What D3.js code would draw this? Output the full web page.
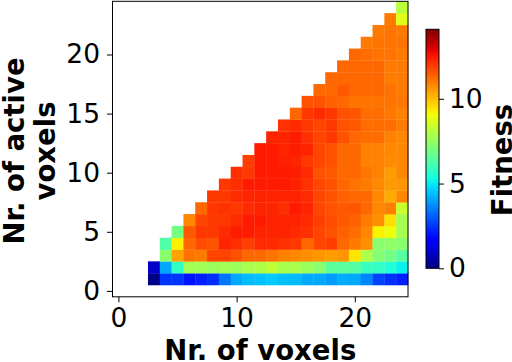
<!DOCTYPE html>
<html>
<head>
<meta charset="UTF-8">
<script src="https://cdnjs.cloudflare.com/ajax/libs/d3/7.8.5/d3.min.js"></script>
<style>
body { margin:0; background:#fff; }
text { font-family:"DejaVu Sans", sans-serif; fill:#000; }
.tick text { font-size:26.5px; }
.tick line { stroke:#000; stroke-width:1; }
.label { font-size:27.5px; font-weight:bold; }
</style>
</head>
<body>
<div id="chart"></div>
<script>
var width = 512, height = 362;

// rows = nr. of active voxels, each row starts at firstVoxel and runs to 24 voxels
var activeCounts = [1,2,3,4,5,6,7,8,9,10,11,12,13,14,15,16,17,18,19,20,21,22,23,24];
var firstVoxel   = [3,3,4,4,5,6,7,8,9,10,11,12,13,14,15,16,17,18,19,20,21,22,23,24];
var fitness = [
  [0.1,2.5,2.5,2.0,2.2,2.4,3.4,4.1,4.35,4.45,4.55,4.4,4.35,4.1,4.1,3.9,4.15,4.1,3.6,2.7,2.4,2.2],
  [0.9,4.1,5.8,7.7,7.7,7.6,7.7,7.6,7.85,7.95,8.2,7.85,7.85,7.6,7.3,6.5,6.5,6.4,5.9,5.8,5.5,5.1],
  [7.3,10.4,11.1,11.0,11.8,11.85,11.6,11.3,11.3,11.1,10.9,10.8,10.7,10.6,10.5,10.6,9.4,7.9,7.2,6.9,6.4],
  [6.3,9.2,11.3,11.7,11.6,12.3,12.15,11.9,12.2,12.2,12.1,12.0,11.3,11.8,11.9,11.3,11.0,10.7,7.3,7.4,7.3],
  [6.9,11.5,12.0,12.0,12.2,12.4,12.45,12.3,12.3,12.3,12.2,12.1,11.8,11.6,11.4,11.2,10.8,9.2,9.0,7.8],
  [10.8,11.8,12.0,12.0,12.2,12.45,12.45,12.3,12.3,12.3,12.2,11.9,11.7,11.5,11.4,11.0,10.7,9.5,7.8],
  [11.3,12.0,12.1,12.0,12.2,12.3,12.3,12.15,12.45,12.3,11.8,11.6,11.5,11.55,11.3,10.8,10.95,8.4],
  [12.0,12.0,12.2,12.3,12.3,12.3,12.3,12.3,12.2,11.8,11.6,11.4,11.3,11.3,10.8,10.3,10.8],
  [12.0,12.15,12.45,12.45,12.45,12.45,12.35,12.1,11.8,11.6,11.3,11.1,11.0,10.8,10.55,10.6],
  [12.15,12.0,12.45,12.45,12.45,12.4,12.2,11.6,11.5,11.3,11.3,11.05,10.9,10.5,10.8],
  [11.9,12.45,12.45,12.35,12.3,12.0,11.8,11.6,11.3,11.3,10.9,10.9,10.75,10.8],
  [12.45,12.45,12.3,12.4,12.3,11.8,11.6,11.3,11.3,10.9,10.9,10.8,10.8],
  [12.3,12.3,12.4,12.1,11.8,12.0,11.6,11.3,11.2,11.2,10.9,10.8],
  [12.1,12.2,12.0,11.8,12.0,11.6,11.5,11.2,11.2,11.2,11.0],
  [11.3,12.0,12.2,12.0,11.6,11.55,11.2,11.2,11.05,10.9],
  [11.6,11.6,11.4,11.3,11.1,11.1,11.1,11.1,11.05],
  [11.3,11.3,11.5,11.3,11.3,11.3,11.15,11.0],
  [11.3,11.3,11.3,11.3,11.3,11.0,11.0],
  [11.3,11.3,11.3,11.3,11.0,11.0],
  [11.3,11.2,11.1,11.1,11.0],
  [11.0,11.1,11.1,11.1],
  [11.0,11.1,11.0],
  [11.0,8.75],
  [8.1]
];
var xTicks = [0,10,20];
var yTicks = [0,5,10,15,20];
var cbarTicks = [0,5,10];
var fitnessMax = 14.1;

// matplotlib "jet" segment data
var jetR = [[0,0],[0.35,0],[0.66,1],[0.89,1],[1,0.5]];
var jetG = [[0,0],[0.125,0],[0.375,1],[0.64,1],[0.91,0],[1,0]];
var jetB = [[0,0.5],[0.11,1],[0.34,1],[0.65,0],[1,0]];
function seg(pts, t) {
  for (var i = 1; i < pts.length; i++) {
    if (t <= pts[i][0]) {
      var a = pts[i-1], b = pts[i];
      return a[1] + (b[1]-a[1]) * (t-a[0]) / (b[0]-a[0]);
    }
  }
  return pts[pts.length-1][1];
}
function jet(t) {
  t = Math.max(0, Math.min(1, t));
  return d3.rgb(255*seg(jetR,t), 255*seg(jetG,t), 255*seg(jetB,t)).formatHex();
}
var color = d3.scaleSequential(jet).domain([0, fitnessMax]);

var cells = [];
fitness.forEach(function(row, i) {
  row.forEach(function(v, j) {
    cells.push({voxels: firstVoxel[i] + j, active: activeCounts[i], value: v});
  });
});

var plot = {left:112.5, right:408, top:1.3, bottom:296.8};
var x = d3.scaleLinear().domain([-0.5, 24.5]).range([plot.left, plot.right]);
var y = d3.scaleLinear().domain([-0.5, 24.5]).range([plot.bottom, plot.top]);

var svg = d3.select("#chart").append("svg").attr("width", width).attr("height", height);

svg.append("g").selectAll("rect").data(cells).enter().append("rect")
  .attr("x", function(d){ return x(d.voxels - 0.5); })
  .attr("y", function(d){ return y(d.active + 0.5); })
  .attr("width", function(d){ return x(d.voxels + 0.5) - x(d.voxels - 0.5) + 0.3; })
  .attr("height", function(d){ return y(d.active - 0.5) - y(d.active + 0.5) + 0.3; })
  .attr("fill", function(d){ return color(d.value); });

svg.append("rect")
  .attr("x", plot.left).attr("y", plot.top)
  .attr("width", plot.right - plot.left).attr("height", plot.bottom - plot.top)
  .attr("fill", "none").attr("stroke", "#000").attr("stroke-width", 1);

var gx = svg.append("g").attr("transform", "translate(0," + plot.bottom + ")")
  .call(d3.axisBottom(x).tickValues(xTicks).tickSize(5.5).tickPadding(6));
gx.select(".domain").remove();

var gy = svg.append("g").attr("transform", "translate(" + plot.left + ",0)")
  .call(d3.axisLeft(y).tickValues(yTicks).tickSize(5.5).tickPadding(7));
gy.select(".domain").remove();

svg.append("text").attr("class", "label")
  .attr("x", (plot.left + plot.right) / 2).attr("y", 360)
  .attr("text-anchor", "middle")
  .text("Nr. of voxels");

var ylab = svg.append("text").attr("class", "label")
  .attr("transform", "translate(23.5,151) rotate(-90)")
  .attr("text-anchor", "middle");
ylab.append("tspan").attr("x", 0).attr("y", 0).text("Nr. of active");
ylab.append("tspan").attr("x", 0).attr("y", 31.7).text("voxels");

// colorbar
var cb = {left:426, right:439, top:29.3, bottom:268.3};
var cbScale = d3.scaleLinear().domain([0, fitnessMax]).range([cb.bottom, cb.top]);

var grad = svg.append("defs").append("linearGradient")
  .attr("id", "jetgrad").attr("x1", 0).attr("y1", 1).attr("x2", 0).attr("y2", 0);
grad.selectAll("stop").data(d3.range(0, 1.0001, 0.02)).enter().append("stop")
  .attr("offset", function(d){ return d; })
  .attr("stop-color", function(d){ return jet(d); });

svg.append("rect")
  .attr("x", cb.left).attr("y", cb.top)
  .attr("width", cb.right - cb.left).attr("height", cb.bottom - cb.top)
  .attr("fill", "url(#jetgrad)").attr("stroke", "#000").attr("stroke-width", 1);

var gc = svg.append("g").attr("transform", "translate(" + cb.right + ",0)")
  .call(d3.axisRight(cbScale).tickValues(cbarTicks).tickSize(5).tickPadding(5));
gc.select(".domain").remove();

svg.append("text").attr("class", "label")
  .attr("transform", "translate(511.5,160) rotate(-90)")
  .attr("text-anchor", "middle")
  .text("Fitness");
</script>
</body>
</html>
